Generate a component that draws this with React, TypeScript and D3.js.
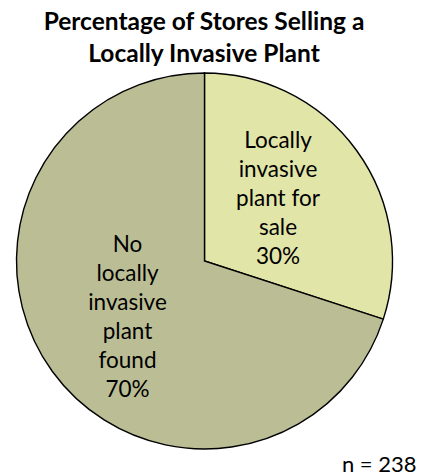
import React from "react";
import * as d3 from "d3";

const categories = ["Locally invasive plant for sale", "No locally invasive plant found"];
const values = [30, 70];
const labelLines = [
  ["Locally", "invasive", "plant for", "sale", "30%"],
  ["No", "locally", "invasive", "plant", "found", "70%"],
];
const colors = ["#E2E5A8", "#BBBE94"];
const titleLines = ["Percentage of Stores Selling a", "Locally Invasive Plant"];
const noteText = "n = 238";

const W = 422;
const H = 475;
const cx = 204.5;
const cy = 261;
const R = 188;
const FONT = "Lato, 'Open Sans', sans-serif";

export default function App() {
  const pie = d3.pie<number>().sort(null).value((d) => d);
  const arcs = pie(values);
  const arc = d3.arc<d3.PieArcDatum<number>>().innerRadius(0).outerRadius(R);
  const labelPos = [
    { x: 278 - cx, top: 148 - cy },
    { x: 127.5 - cx, top: 251.5 - cy },
  ];
  const lineH = 29;
  return (
    <svg width={W} height={H} style={{ position: "absolute", left: 0, top: 0 }}>
      <rect width={W} height={H} fill="#fff" />
      <g fontFamily={FONT} fontWeight="bold" fontSize={24.5} textAnchor="middle" fill="#000">
        {titleLines.map((t, i) => (
          <text key={i} x={204} y={29.5 + i * 32}>
            {t}
          </text>
        ))}
      </g>
      <g transform={`translate(${cx},${cy})`}>
        {arcs.map((a, i) => (
          <path key={categories[i]} d={arc(a) || ""} fill={colors[i]} stroke="#000" strokeWidth={1.4} />
        ))}
        {arcs.map((a, i) => (
          <text key={"l" + i} fontFamily={FONT} fontSize={22.5} textAnchor="middle" fill="#000">
            {labelLines[i].map((t, j) => (
              <tspan key={j} x={labelPos[i].x} y={labelPos[i].top + j * lineH}>
                {t}
              </tspan>
            ))}
          </text>
        ))}
      </g>
      <text x={416.5} y={471.5} textAnchor="end" fontFamily={FONT} fontSize={22} fill="#000">
        {noteText}
      </text>
    </svg>
  );
}
